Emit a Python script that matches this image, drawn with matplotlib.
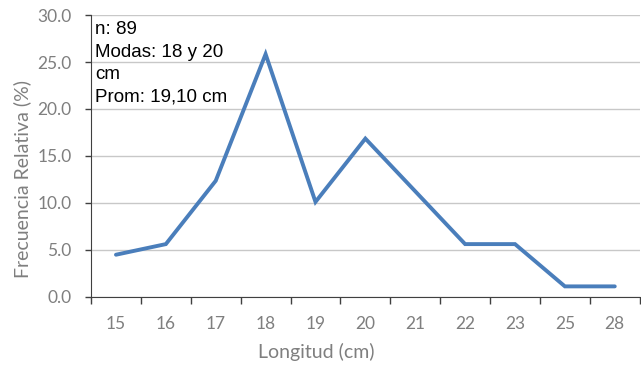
import numpy as np
import matplotlib.pyplot as plt
from matplotlib.ticker import FixedLocator

# talla (cm) vs frecuencia relativa (%)
longitudes = ["15", "16", "17", "18", "19", "20", "21", "22", "23", "25", "28"]
frecuencia = [4.49, 5.62, 12.36, 25.84, 10.11, 16.85, 11.24, 5.62, 5.62, 1.12, 1.12]
y_ticks = [0, 5, 10, 15, 20, 25, 30]

gray = "#7f7f7f"
line_col = "#4a7ebb"

fig = plt.figure(figsize=(6.41, 3.67), dpi=100)
ax = fig.add_axes([0.142, 0.191, 0.856, 0.768])

x = np.arange(len(longitudes))
ax.plot(x, frecuencia, color=line_col, linewidth=2.8, solid_capstyle="round",
        solid_joinstyle="miter", zorder=3)

ax.set_xlim(-0.5, len(longitudes) - 0.5)
ax.set_ylim(0, 30)

# categorias: etiquetas al centro, marcas en los bordes
ax.set_xticks(x)
ax.set_xticklabels(longitudes, fontsize=12.5, color=gray, family="Lato")
ax.tick_params(axis="x", which="major", length=0, pad=14)
ax.xaxis.set_minor_locator(FixedLocator(np.arange(-0.5, len(longitudes), 1.0)))
ax.tick_params(axis="x", which="minor", length=5, width=1, color="#404040", direction="out")

ax.set_yticks(y_ticks)
ax.set_yticklabels(["%.1f" % v for v in y_ticks], fontsize=12.5, color=gray, family="Lato")
ax.tick_params(axis="y", length=4, width=1, color="#404040", direction="out", pad=10)

ax.grid(axis="y", color="#c8c8c8", linewidth=1)
ax.set_axisbelow(True)
for s in ["top", "right"]:
    ax.spines[s].set_visible(False)
ax.spines["left"].set_color("#404040")
ax.spines["bottom"].set_color("#404040")

ax.set_xlabel("Longitud (cm)", fontsize=14, color=gray, family="Lato")
ax.set_ylabel("Frecuencia Relativa (%)", fontsize=14, color=gray, family="Lato")
ax.xaxis.set_label_coords(0.41, -0.195)
ax.yaxis.set_label_coords(-0.126, 0.42)
ax.xaxis.label.set_va("center")
ax.yaxis.label.set_va("center")

ax.text(0.007, 0.978, "n: 89\nModas: 18 y 20\ncm\nProm: 19,10 cm",
        transform=ax.transAxes, ha="left", va="top", fontsize=13.5,
        family="Liberation Sans", color="black", linespacing=1.42)

plt.savefig("out.png", dpi=100)
